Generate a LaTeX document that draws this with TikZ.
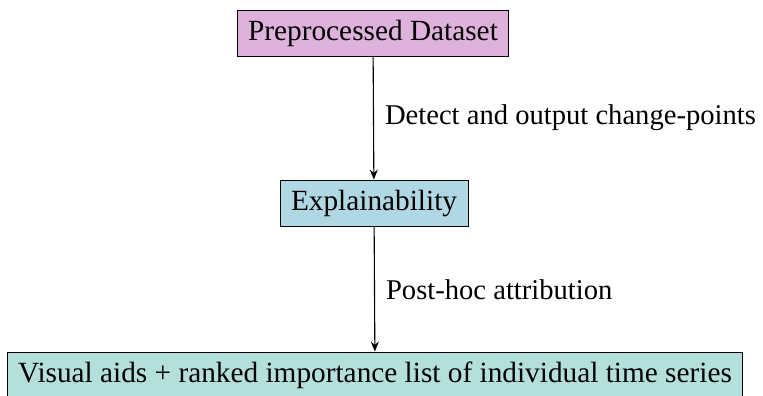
\documentclass[tikz,border=0pt]{standalone}
\usepackage{fontspec}
\setmainfont{Liberation Serif}
\usetikzlibrary{arrows.meta}
\definecolor{boxpink}{RGB}{222,178,220}
\definecolor{boxblue}{RGB}{176,216,228}
\definecolor{boxteal}{RGB}{180,224,220}
\tikzset{
  stage/.style={draw=black, line width=0.8pt, minimum height=46pt, inner xsep=11pt, font=\fontsize{29.3}{34}\selectfont},
  flow/.style={-{Stealth[length=10pt,width=8pt]}, line width=1.1pt},
  steplabel/.style={right, inner xsep=0pt, font=\fontsize{28.6}{34}\selectfont}
}
\begin{document}
\begin{tikzpicture}[x=1pt,y=-1pt]
\useasboundingbox (0,0) rectangle (763,396);
\node[stage, fill=boxpink] (data) at (373,33) {Preprocessed Dataset};
\node[stage, fill=boxblue] (expl) at (374,203) {Explainability};
\node[stage, fill=boxteal] (vis) at (375,375) {Visual aids + ranked importance list of individual time series};
\draw[flow] (data) -- (expl) node[midway, steplabel, xshift=11pt] {Detect and output change-points};
\draw[flow] (expl) -- (vis) node[midway, steplabel, xshift=11pt, yshift=-1pt] {Post-hoc attribution};
\end{tikzpicture}
\end{document}
